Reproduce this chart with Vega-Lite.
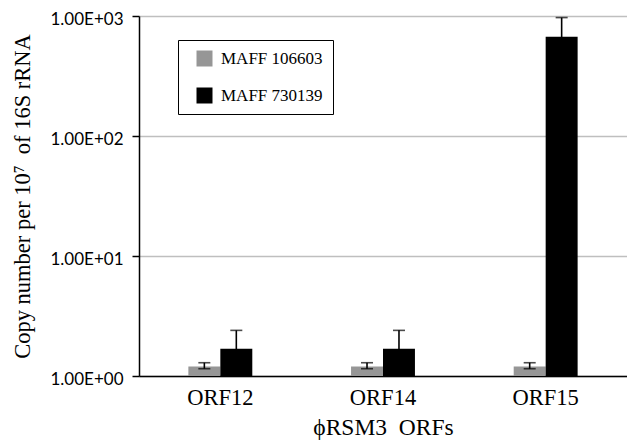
{
  "$schema": "https://vega.github.io/schema/vega-lite/v6.json",
  "width": 488,
  "height": 360,
  "autosize": {"type": "none"},
  "padding": {"left": 139, "top": 16, "right": 0, "bottom": 64},
  "background": "white",
  "config": {"view": {"stroke": null}, "font": "Liberation Serif"},
  "data": {
    "values": [
      {"orf": "ORF12", "strain": "MAFF 106603", "value": 1.2, "lower": 1.15, "upper": 1.29},
      {"orf": "ORF12", "strain": "MAFF 730139", "value": 1.69, "lower": 1.0, "upper": 2.4},
      {"orf": "ORF14", "strain": "MAFF 106603", "value": 1.2, "lower": 1.15, "upper": 1.29},
      {"orf": "ORF14", "strain": "MAFF 730139", "value": 1.69, "lower": 1.0, "upper": 2.4},
      {"orf": "ORF15", "strain": "MAFF 106603", "value": 1.2, "lower": 1.15, "upper": 1.29},
      {"orf": "ORF15", "strain": "MAFF 730139", "value": 673, "lower": 376, "upper": 970}
    ]
  },
  "encoding": {
    "x": {
      "field": "orf",
      "type": "nominal",
      "sort": ["ORF12", "ORF14", "ORF15"],
      "scale": {"paddingInner": 0.607, "paddingOuter": 0.3035},
      "title": "ϕRSM3\u00a0 ORFs",
      "axis": {
        "labelAngle": 0,
        "labelFont": "Liberation Serif",
        "labelFontSize": 22.5,
        "labelColor": "black",
        "labelPadding": 10,
        "ticks": false,
        "domainColor": "black",
        "domainWidth": 1.5,
        "titleFont": "Liberation Serif",
        "titleFontSize": 23.5,
        "titleFontWeight": "normal",
        "titleColor": "black",
        "titlePadding": 7
      }
    },
    "xOffset": {
      "field": "strain",
      "type": "nominal",
      "scale": {"domain": ["MAFF 106603", "MAFF 730139"], "paddingInner": 0, "paddingOuter": 0}
    }
  },
  "layer": [
    {
      "mark": {"type": "bar"},
      "encoding": {
        "y": {
          "field": "value",
          "type": "quantitative",
          "scale": {"type": "log", "domain": [1, 1000], "nice": false},
          "title": "Copy number per 10⁷\u00a0 of 16S rRNA",
          "axis": {
            "values": [1, 10, 100, 1000],
            "labelExpr": "'1.00E+0' + round(log(datum.value)/LN10)",
            "labelFont": "Lato",
            "labelFontSize": 17,
            "labelColor": "black",
            "labelPadding": 9,
            "labelOffset": 3,
            "tickColor": "black",
            "tickSize": 7,
            "tickWidth": 1.5,
            "domainColor": "black",
            "domainWidth": 1.5,
            "gridColor": "#bfbfbf",
            "gridWidth": 1.5,
            "titleFont": "Liberation Serif",
            "titleFontSize": 22.5,
            "titleFontWeight": "normal",
            "titleColor": "black",
            "titlePadding": 16
          }
        },
        "y2": {"datum": 1},
        "color": {
          "field": "strain",
          "type": "nominal",
          "scale": {"domain": ["MAFF 106603", "MAFF 730139"], "range": ["#969696", "#000000"]},
          "legend": {
            "orient": "none",
            "legendX": 39,
            "legendY": 24,
            "title": null,
            "symbolType": "square",
            "symbolSize": 256,
            "symbolStrokeWidth": 0,
            "symbolOpacity": 1,
            "labelFont": "Liberation Serif",
            "labelFontSize": 17,
            "labelColor": "black",
            "labelOffset": 8,
            "strokeColor": "black",
            "fillColor": "white",
            "padding": 10,
            "symbolOffset": 8,
            "rowPadding": 19
          }
        }
      }
    },
    {
      "mark": {"type": "rule", "color": "black", "strokeWidth": 1.6},
      "encoding": {
        "y": {"field": "lower", "type": "quantitative", "title": "Copy number per 10⁷\u00a0 of 16S rRNA"},
        "y2": {"field": "upper"}
      }
    },
    {
      "mark": {"type": "tick", "orient": "horizontal", "color": "black", "size": 12, "thickness": 1.6},
      "encoding": {
        "y": {"field": "upper", "type": "quantitative", "title": "Copy number per 10⁷\u00a0 of 16S rRNA"}
      }
    },
    {
      "mark": {"type": "tick", "orient": "horizontal", "color": "black", "size": 12, "thickness": 1.6},
      "encoding": {
        "y": {"field": "lower", "type": "quantitative", "title": "Copy number per 10⁷\u00a0 of 16S rRNA"}
      }
    }
  ]
}
